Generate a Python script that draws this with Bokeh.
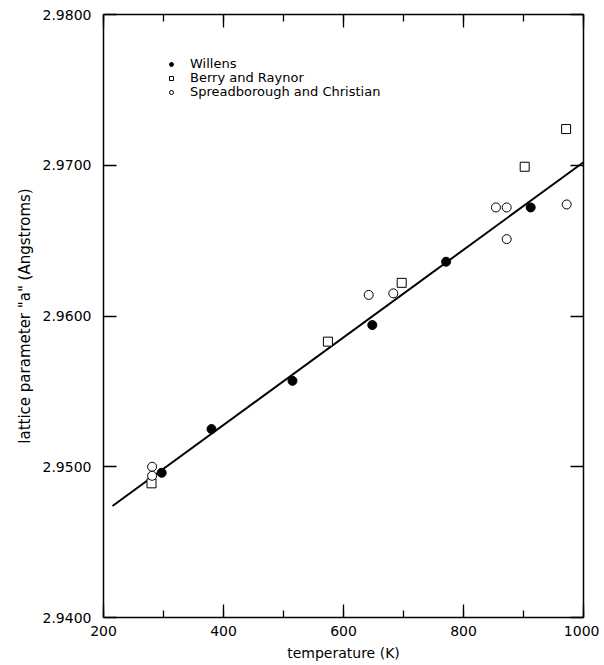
from bokeh.plotting import figure
from bokeh.models import (Range1d, LinearAxis, SingleIntervalTicker, PrintfTickFormatter,
                          Legend, LegendItem)
from bokeh.embed import file_html
from bokeh.resources import INLINE

# --- data ---
willens_T = [297, 380, 515, 648, 771, 912]
willens_a = [2.9496, 2.9525, 2.9557, 2.9594, 2.9636, 2.9672]

berry_T = [280, 574, 697, 902, 971]
berry_a = [2.9489, 2.9583, 2.9622, 2.9699, 2.9724]

spread_T = [281, 281, 642, 683, 854, 872, 872, 972]
spread_a = [2.9500, 2.9494, 2.9614, 2.9615, 2.9672, 2.9672, 2.9651, 2.9674]

fit_T = [215, 1000]
fit_a = [2.9474, 2.9702]

x_label = "temperature (K)"
y_label = 'lattice parameter "a" (Angstroms)'
series_names = ["Willens", "Berry and Raynor", "Spreadborough and Christian"]

FONT = "DejaVu Sans"
FH = 603

p = figure(frame_width=480, frame_height=FH, output_backend="svg", toolbar_location=None,
           x_range=Range1d(200, 1000), y_range=Range1d(2.94, 2.98),
           min_border_left=103, min_border_right=16, min_border_top=14, min_border_bottom=46,
           x_axis_type=None, y_axis_type=None)
p.grid.visible = False
p.outline_line_color = None
p.background_fill_color = "white"
p.border_fill_color = "white"

xt = SingleIntervalTicker(interval=200, num_minor_ticks=2)
yt = SingleIntervalTicker(interval=0.01, num_minor_ticks=0)


def style(ax, show_labels):
    ax.axis_line_width = 1.5
    ax.axis_line_color = "black"
    ax.major_tick_line_color = "black"
    ax.minor_tick_line_color = "black"
    ax.major_tick_line_width = 1.3
    ax.minor_tick_line_width = 1.3
    ax.major_tick_out = 0
    ax.minor_tick_out = 0
    ax.major_tick_in = 13
    ax.minor_tick_in = 7
    ax.major_label_text_font = FONT
    ax.major_label_text_font_size = "14px" if show_labels else "0px"
    ax.major_label_text_color = "black"
    ax.axis_label_text_font = FONT
    ax.axis_label_text_font_size = "14px"
    ax.axis_label_text_font_style = "normal"
    ax.axis_label_text_color = "black"
    if not show_labels:
        ax.major_label_text_alpha = 0
        ax.major_label_standoff = 0


xb = LinearAxis(ticker=xt, axis_label=x_label)
style(xb, True)
xb.major_label_standoff = 8
xb.axis_label_standoff = 6
p.add_layout(xb, "below")

yl = LinearAxis(ticker=yt, axis_label=y_label, formatter=PrintfTickFormatter(format="%.4f"))
style(yl, True)
yl.axis_label_text_font_size = "15px"
yl.major_label_standoff = 12
yl.axis_label_standoff = 6
p.add_layout(yl, "left")

xa = LinearAxis(ticker=xt)
style(xa, False)
p.add_layout(xa, "above")

yr = LinearAxis(ticker=yt)
style(yr, False)
p.add_layout(yr, "right")

# fit line
p.line(fit_T, fit_a, line_color="black", line_width=2)

r1 = p.scatter(willens_T, willens_a, marker="circle", size=9, fill_color="black",
               line_color="black")
r2 = p.scatter(berry_T, berry_a, marker="square", size=9, fill_color="white",
               line_color="black", line_width=1)
r3 = p.scatter(spread_T, spread_a, marker="circle", size=9, fill_color="white",
               line_color="black", line_width=1)

# one legend per row so the rows can sit as tightly as in the reference
row_centres = [50, 64, 78]  # px below the frame top
for name, rend, yc in zip(series_names, [r1, r2, r3], row_centres):
    lg = Legend(items=[LegendItem(label=name, renderers=[rend])],
                location=(62, FH - yc - 7), border_line_color=None, background_fill_alpha=0,
                label_text_font=FONT, label_text_font_size="13px", label_text_color="black",
                glyph_width=12, glyph_height=10, label_height=10, spacing=0, padding=0,
                margin=0, label_standoff=13)
    p.add_layout(lg, "center")

open("out.html", "w").write(file_html(p, INLINE))
